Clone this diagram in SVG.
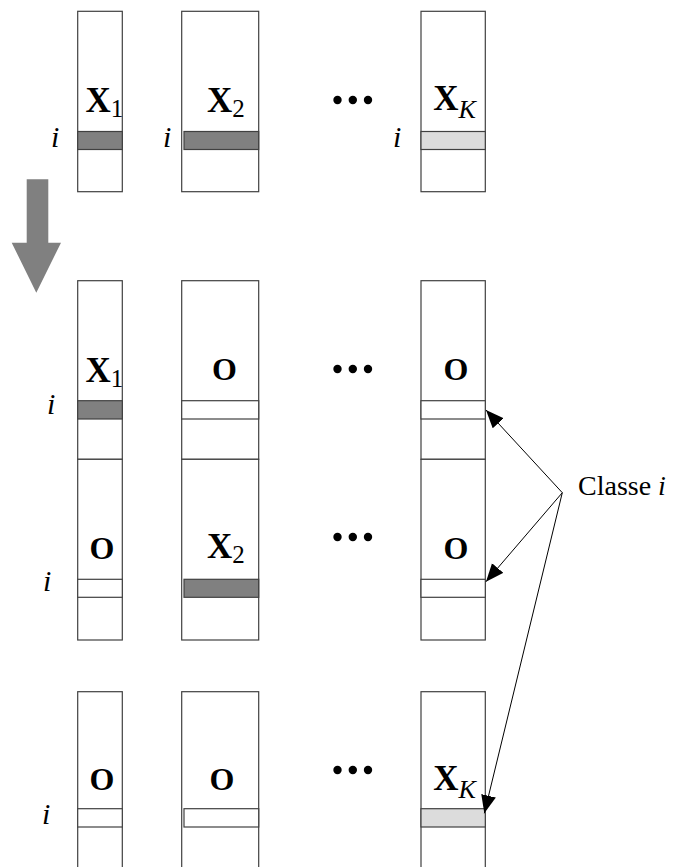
<svg xmlns="http://www.w3.org/2000/svg" width="679" height="867" viewBox="0 0 679 867">
<style>
.col{fill:#fff;stroke:#404040;stroke-width:1.2}
.dark{fill:#808080;stroke:#404040;stroke-width:1.2}
.light{fill:#dcdcdc;stroke:#404040;stroke-width:1.2}
.white{fill:#fff;stroke:#404040;stroke-width:1.2}
.b{font-family:"Liberation Serif",serif;font-weight:bold;font-size:35px;fill:#000}
.o{font-family:"Liberation Serif",serif;font-weight:bold;font-size:32px;fill:#000}
.sub{font-weight:normal;font-size:25px}
.subi{font-weight:normal;font-style:italic;font-size:26px}
.i{font-family:"Liberation Serif",serif;font-style:italic;font-size:30px;fill:#000}
.lbl{font-family:"Liberation Serif",serif;font-size:28px;fill:#000}
.dot{fill:#000}
.conn{stroke:#000;stroke-width:1;fill:none}
</style>
<defs>
<marker id="ah" markerUnits="userSpaceOnUse" markerWidth="20" markerHeight="16" refX="18" refY="7.5" orient="auto">
<path d="M0,0 L18,7.5 L0,15 Z" fill="#000"/>
</marker>
<g id="dots">
<circle class="dot" cx="337.5" cy="0" r="4.2"/>
<circle class="dot" cx="352.8" cy="0" r="4.2"/>
<circle class="dot" cx="368" cy="0" r="4.2"/>
</g>
</defs>

<!-- big down arrow -->
<g id="bigArrow">
<polygon points="26.7,179.3 48.3,179.3 48.3,242.7 61,242.7 36.3,292.7 11.7,242.7 26.7,242.7" fill="#808080"/>
</g>

<!-- Top row -->
<g id="top-col1">
<rect class="col" x="77.7" y="11.3" width="44.6" height="180.4"/>
<rect class="dark" x="77.7" y="131.5" width="44.6" height="18"/>
<text class="b" x="85.5" y="112">X<tspan class="sub" dy="5">1</tspan></text>
<text class="i" x="51" y="147">i</text>
</g>
<g id="top-col2">
<rect class="col" x="181.7" y="11.3" width="77" height="180.4"/>
<rect class="dark" x="184" y="131.5" width="74.7" height="18"/>
<text class="b" x="207" y="112">X<tspan class="sub" dy="5">2</tspan></text>
<text class="i" x="163" y="147">i</text>
</g>
<use href="#dots" y="100"/>
<g id="top-colK">
<rect class="col" x="421" y="11.3" width="64.3" height="180.4"/>
<rect class="light" x="421" y="131.5" width="64.3" height="18"/>
<text class="b" x="433.3" y="110">X<tspan class="subi" dy="8">K</tspan></text>
<text class="i" x="393" y="147">i</text>
</g>

<!-- Middle block -->
<g id="mid-col1">
<rect class="col" x="77.7" y="280.7" width="44.6" height="178.6"/>
<rect class="col" x="77.7" y="459.3" width="44.6" height="180.7"/>
<rect class="dark" x="77.7" y="400.7" width="44.6" height="18.3"/>
<rect class="white" x="77.7" y="579.3" width="44.6" height="18"/>
<text class="b" x="85.5" y="381.5">X<tspan class="sub" dy="5">1</tspan></text>
<text class="o" x="89.5" y="559">O</text>
<text class="i" x="47" y="414">i</text>
<text class="i" x="43" y="591">i</text>
</g>
<g id="mid-col2">
<rect class="col" x="181.7" y="280.7" width="77" height="178.6"/>
<rect class="col" x="181.7" y="459.3" width="77" height="180.7"/>
<rect class="white" x="181.7" y="400.7" width="77" height="18.3"/>
<rect class="dark" x="184" y="579.3" width="74.7" height="18"/>
<text class="o" x="212" y="380">O</text>
<text class="b" x="207" y="558.3">X<tspan class="sub" dy="5">2</tspan></text>
</g>
<use href="#dots" y="369"/>
<use href="#dots" y="537"/>
<g id="mid-colK">
<rect class="col" x="421" y="280.7" width="64.3" height="178.6"/>
<rect class="col" x="421" y="459.3" width="64.3" height="180.7"/>
<rect class="white" x="421" y="400.7" width="64.3" height="18.3"/>
<rect class="white" x="421" y="579.3" width="64.3" height="18"/>
<text class="o" x="443.5" y="380">O</text>
<text class="o" x="443.5" y="558.5">O</text>
</g>

<!-- Bottom block -->
<g id="bot-col1">
<rect class="col" x="77.7" y="691.7" width="44.6" height="190"/>
<rect class="white" x="77.7" y="808.7" width="44.6" height="18.3"/>
<text class="o" x="89.5" y="790">O</text>
<text class="i" x="42" y="824">i</text>
</g>
<g id="bot-col2">
<rect class="col" x="181.7" y="691.7" width="77" height="190"/>
<rect class="white" x="184" y="808.7" width="74.7" height="18.3"/>
<text class="o" x="209.5" y="790">O</text>
</g>
<use href="#dots" y="770"/>
<g id="bot-colK">
<rect class="col" x="421" y="691.7" width="64.3" height="190"/>
<rect class="light" x="421" y="808.7" width="64.3" height="18.3"/>
<text class="b" x="433.3" y="790">X<tspan class="subi" dy="8">K</tspan></text>
</g>

<!-- Label -->
<g id="label">
<text class="lbl" x="578" y="495">Classe <tspan font-style="italic">i</tspan></text>
</g>

<!-- connectors -->
<g id="connectors">
<line class="conn" x1="562.3" y1="492.7" x2="486" y2="410" marker-end="url(#ah)"/>
<line class="conn" x1="562.3" y1="492.7" x2="486" y2="581.7" marker-end="url(#ah)"/>
<line class="conn" x1="562.3" y1="492.7" x2="484.3" y2="813.3" marker-end="url(#ah)"/>
</g>
</svg>
